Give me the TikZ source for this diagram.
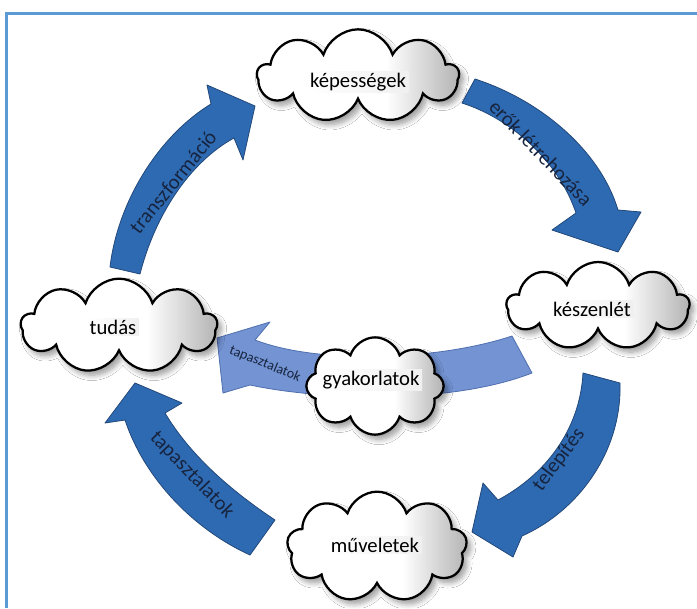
\documentclass[tikz,border=0pt]{standalone}
\usepackage{fontspec}
\setmainfont{Carlito}
\usetikzlibrary{shapes.symbols,shadows.blur}
\definecolor{frameblue}{HTML}{5B9BD5}
\definecolor{arrowblue}{HTML}{2E6AB1}
\definecolor{arrowedge}{HTML}{22487A}
\definecolor{lightblue}{HTML}{7393D3}
\definecolor{lightedge}{HTML}{4F6FAF}
\definecolor{labelink}{HTML}{17243F}
\pgfdeclarehorizontalshading{cloudshade}{100bp}{color(0bp)=(white); color(25bp)=(white); color(57bp)=(white); color(75bp)=(black!30); color(100bp)=(black!30)}
\begin{document}
\begin{tikzpicture}[x=0.75pt,y=-0.75pt,
  cloudbox/.style={cloud, cloud puffs=9, cloud puff arc=145, cloud ignores aspect,
    draw=black, line width=1.7pt, shade, shading=cloudshade,
    blur shadow={shadow xshift=3pt, shadow yshift=-3.5pt, shadow opacity=40, shadow blur steps=8, shadow blur radius=4pt},
    inner sep=0pt},
  cloudtext/.style={font=\fontsize{15.5}{18}\selectfont, text=black, left color=white, right color=black!6, inner xsep=2pt, inner ysep=1pt},
  bigarrow/.style={fill=arrowblue, draw=arrowedge, line width=0.6pt, line join=round},
  smallarrow/.style={fill=lightblue, draw=lightedge, line width=0.6pt, line join=round},
  arrowlabel/.style={font=\fontsize{15.5}{18}\selectfont, text=labelink, inner sep=0pt},
]
\useasboundingbox[fill=white] (0,0) rectangle (697,608);
\draw[frameblue, line width=2pt] (6.5,608) -- (6.5,13.5) -- (697,13.5);

% arrows
\path[bigarrow] (110,267) .. controls (118,200) and (160,135) .. (211,104) -- (207,85) -- (255,106) -- (243,160) -- (234,138) .. controls (190,162) and (155,215) .. (140,274) -- cycle;
\path[bigarrow] (475,79) .. controls (540,100) and (600,150) .. (618,210) -- (641,212) -- (618,252) -- (552,230) -- (576,213) .. controls (560,165) and (515,120) .. (462,103) -- cycle;
\path[bigarrow] (620,383) .. controls (622,450) and (580,510) .. (522,536) -- (513,557) -- (472,532) -- (483,483) -- (498,500) .. controls (545,475) and (580,430) .. (583,373) -- cycle;
\path[bigarrow] (275,520) .. controls (230,490) and (190,455) .. (165,413) -- (182,403) -- (135,383) -- (105,423) -- (125,420) .. controls (145,480) and (195,530) .. (250,555) -- cycle;
\path[smallarrow] (532,373) -- (512,336) .. controls (440,360) and (320,365) .. (255,340) -- (270,322) -- (217,338) -- (223,393) -- (250,385) .. controls (320,400) and (450,405) .. (532,373) -- cycle;

% arrow labels
\node[arrowlabel, rotate=51] (l1) at (173,182) {transzformáció};
\node[arrowlabel, rotate=-46] (l2) at (541,153) {erők létrehozása};
\node[arrowlabel, rotate=53] (l3) at (559,460) {telepítés};
\node[arrowlabel, rotate=-46] (l4) at (192,475) {tapasztalatok};
\node[arrowlabel, font=\fontsize{10.5}{12}\selectfont, rotate=-22] (l5) at (265,364) {tapasztalatok};

% clouds
\node[cloudbox, minimum width=151pt, minimum height=70pt] (kep) at (358,76) {};
\node[cloudbox, minimum width=147pt, minimum height=71pt] (tud) at (119,326) {};
\node[cloudbox, minimum width=137pt, minimum height=66pt] (kes) at (598,306) {};
\node[cloudbox, cloud puffs=8, minimum width=103pt, minimum height=73pt] (gya) at (375,386) {};
\node[cloudbox, minimum width=135pt, minimum height=83pt] (muv) at (377,547) {};

\node[cloudtext] (kept) at (358,82) {képességek};
\node[cloudtext] (tudt) at (113,327) {tudás};
\node[cloudtext] (kest) at (592,309) {készenlét};
\node[cloudtext] (gyat) at (371,380) {gyakorlatok};
\node[cloudtext] (muvt) at (375,545) {műveletek};
\end{tikzpicture}
\end{document}
